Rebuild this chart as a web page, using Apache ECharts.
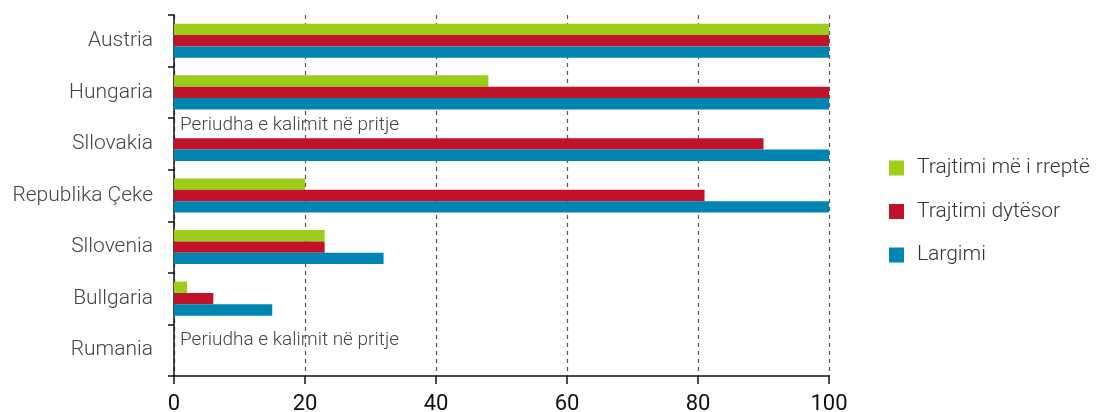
<!DOCTYPE html>
<html>
<head>
<meta charset="utf-8">
<script src="https://cdn.jsdelivr.net/npm/echarts@6/dist/echarts.min.js"></script>
<style>html,body{margin:0;padding:0;background:#fff}#c{width:1096px;height:412px}</style>
</head>
<body>
<div id="c"></div>
<script>
const categories = ['Austria', 'Hungaria', 'Sllovakia', 'Republika Çeke', 'Sllovenia', 'Bullgaria', 'Rumania'];
const seriesNames = ['Trajtimi më i rreptë', 'Trajtimi dytësor', 'Largimi'];
const strictValues = [100, 48, 0, 20, 23, 2, 0];
const secondaryValues = [100, 100, 90, 81, 23, 6, null];
const removalValues = [100, 100, 100, 100, 32, 15, null];
const pendingNote = 'Periudha e kalimit në pritje';
const pendingCategories = ['Sllovakia', 'Rumania'];
const xTicks = [0, 20, 40, 60, 80, 100];

const colors = ['#9BCD19', '#C0132A', '#0084B1'];
const font = 'Roboto, "Noto Sans", sans-serif';

const strictData = strictValues.map((v, i) => {
  if (pendingCategories.includes(categories[i])) {
    return {
      value: v,
      label: {
        show: true, position: 'right', distance: 6,
        formatter: pendingNote, color: '#444', fontSize: 19, fontFamily: font, fontWeight: 300,
        offset: categories[i] === 'Sllovakia' ? [0, -7] : [0, 1]
      }
    };
  }
  return v;
});

const chart = echarts.init(document.getElementById('c'), null, { renderer: 'canvas' });
chart.setOption({
  animation: false,
  color: colors,
  grid: { left: 174, right: 267, top: 15, bottom: 36, containLabel: false, outerBoundsMode: 'none' },
  legend: {
    orient: 'vertical', left: 889, top: 157, padding: 0,
    itemWidth: 15, itemHeight: 15, itemGap: 21.5,
    icon: 'rect',
    textStyle: { fontSize: 21, lineHeight: 22, color: '#333', fontFamily: font, fontWeight: 300, padding: [0, 0, 0, 8] },
    data: seriesNames
  },
  xAxis: {
    type: 'value', min: xTicks[0], max: xTicks[xTicks.length - 1], interval: 20,
    axisLine: { show: true, lineStyle: { color: '#111', width: 1.5 } },
    axisTick: { show: true, length: 8, lineStyle: { color: '#111', width: 1.5 } },
    axisLabel: { fontSize: 22, color: '#111', fontFamily: font, margin: 17 },
    splitLine: { show: true, lineStyle: { color: '#555', type: [4, 4], width: 1.2 } }
  },
  yAxis: {
    type: 'category', data: categories, inverse: true,
    axisLine: { show: true, lineStyle: { color: '#111', width: 1.5 } },
    axisTick: { show: true, length: 6, lineStyle: { color: '#111', width: 1.5 } },
    axisLabel: { fontSize: 21, color: '#444', fontFamily: font, fontWeight: 300, margin: 21, padding: [4, 0, 0, 0] },
    splitLine: { show: false }
  },
  series: [
    { name: seriesNames[0], type: 'bar', data: strictData, barGap: '0%', barCategoryGap: '34%' },
    { name: seriesNames[1], type: 'bar', data: secondaryValues, barGap: '0%', barCategoryGap: '34%' },
    { name: seriesNames[2], type: 'bar', data: removalValues, barGap: '0%', barCategoryGap: '34%' }
  ]
});
</script>
</body>
</html>
